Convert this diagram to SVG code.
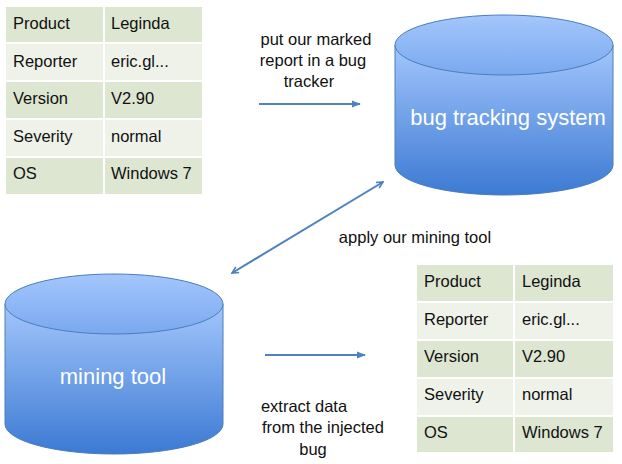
<svg xmlns="http://www.w3.org/2000/svg" width="622" height="464" viewBox="0 0 622 464">
<defs>
<linearGradient id="cyl" x1="0" y1="0" x2="0" y2="1">
<stop offset="0" stop-color="#a3c6fc"/>
<stop offset="1" stop-color="#3c7ad3"/>
</linearGradient>
<linearGradient id="cyltop" x1="0" y1="0" x2="0" y2="1">
<stop offset="0" stop-color="#a3c6fc"/>
<stop offset="1" stop-color="#7aa9ef"/>
</linearGradient>
<marker id="ah" viewBox="0 0 10 10" refX="9" refY="5" markerWidth="8" markerHeight="8" orient="auto-start-reverse" markerUnits="userSpaceOnUse">
<path d="M1,1 L9,5 L1,9" fill="none" stroke="#4f81bd" stroke-width="2"/>
</marker>
<marker id="tri" viewBox="0 0 10 10" refX="9" refY="5" markerWidth="9" markerHeight="9" orient="auto" markerUnits="userSpaceOnUse">
<path d="M0,1 L10,5 L0,9 Z" fill="#4f81bd"/>
</marker>
</defs>
<style>
text{font-family:"Liberation Sans",Arial,sans-serif;}
.t{font-size:16.5px;fill:#111;}
.lbl{font-size:16.5px;fill:#111;text-anchor:middle;}
.cyl{fill:url(#cyl);stroke:#4a7ebb;stroke-width:1;}
.top{fill:url(#cyltop);stroke:#4a7ebb;stroke-width:1;}
.ct{font-size:22px;fill:#fff;text-anchor:middle;}
.dk{fill:#dde6d1;}
.lt{fill:#eef2e9;}
.grid{stroke:#fff;stroke-width:2;}
.conn{stroke:#4f81bd;stroke-width:2;fill:none;}
</style>

<g id="table1">
<rect class="dk" x="6" y="7" width="196" height="36"/>
<rect class="lt" x="6" y="43" width="196" height="38"/>
<rect class="dk" x="6" y="81" width="196" height="38"/>
<rect class="lt" x="6" y="119" width="196" height="38"/>
<rect class="dk" x="6" y="157" width="196" height="37"/>
<line class="grid" x1="104" y1="7" x2="104" y2="194"/>
<line class="grid" x1="6" y1="43" x2="202" y2="43"/>
<line class="grid" x1="6" y1="81" x2="202" y2="81"/>
<line class="grid" x1="6" y1="119" x2="202" y2="119"/>
<line class="grid" x1="6" y1="157" x2="202" y2="157"/>
<text class="t" x="13" y="29">Product</text><text class="t" x="111" y="29">Leginda</text>
<text class="t" x="13" y="67">Reporter</text><text class="t" x="111" y="67">eric.gl...</text>
<text class="t" x="13" y="104">Version</text><text class="t" x="111" y="104">V2.90</text>
<text class="t" x="13" y="142">Severity</text><text class="t" x="111" y="142">normal</text>
<text class="t" x="13" y="179">OS</text><text class="t" x="111" y="179">Windows 7</text>
</g>

<g id="table2">
<rect class="dk" x="417" y="265" width="196" height="37"/>
<rect class="lt" x="417" y="302" width="196" height="38"/>
<rect class="dk" x="417" y="340" width="196" height="38"/>
<rect class="lt" x="417" y="378" width="196" height="38"/>
<rect class="dk" x="417" y="416" width="196" height="36"/>
<line class="grid" x1="514" y1="265" x2="514" y2="452"/>
<line class="grid" x1="417" y1="302" x2="613" y2="302"/>
<line class="grid" x1="417" y1="340" x2="613" y2="340"/>
<line class="grid" x1="417" y1="378" x2="613" y2="378"/>
<line class="grid" x1="417" y1="416" x2="613" y2="416"/>
<text class="t" x="424" y="287">Product</text><text class="t" x="522" y="287">Leginda</text>
<text class="t" x="424" y="325">Reporter</text><text class="t" x="522" y="325">eric.gl...</text>
<text class="t" x="424" y="362">Version</text><text class="t" x="522" y="362">V2.90</text>
<text class="t" x="424" y="400">Severity</text><text class="t" x="522" y="400">normal</text>
<text class="t" x="424" y="438">OS</text><text class="t" x="522" y="438">Windows 7</text>
</g>

<g id="bugtracker">
<path class="cyl" d="M395,45 L395,165 A109,30 0 0 0 613,165 L613,45 Z"/>
<ellipse class="top" cx="504" cy="45" rx="109" ry="30"/>
<text class="ct" x="508" y="125">bug tracking system</text>
</g>

<g id="miningtool">
<path class="cyl" d="M5,304 L5,424 A109,30 0 0 0 223,424 L223,304 Z"/>
<ellipse class="top" cx="114" cy="304" rx="109" ry="30"/>
<text class="ct" x="113" y="384">mining tool</text>
</g>

<g id="connectors">
<line class="conn" x1="259" y1="104" x2="360" y2="104" marker-end="url(#tri)"/>
<line class="conn" x1="265" y1="355" x2="365" y2="355" marker-end="url(#tri)"/>
<line class="conn" x1="232" y1="273" x2="383" y2="182" marker-start="url(#ah)" marker-end="url(#ah)"/>
</g>

<g id="labels">
<text class="lbl" x="316" y="45">put our marked</text>
<text class="lbl" x="313" y="66">report in a bug</text>
<text class="lbl" x="309" y="87">tracker</text>
<text class="lbl" x="415" y="243">apply our mining tool</text>
<text class="lbl" x="304" y="412">extract data</text>
<text class="lbl" x="323" y="433">from the injected</text>
<text class="lbl" x="313" y="455">bug</text>
</g>
</svg>
